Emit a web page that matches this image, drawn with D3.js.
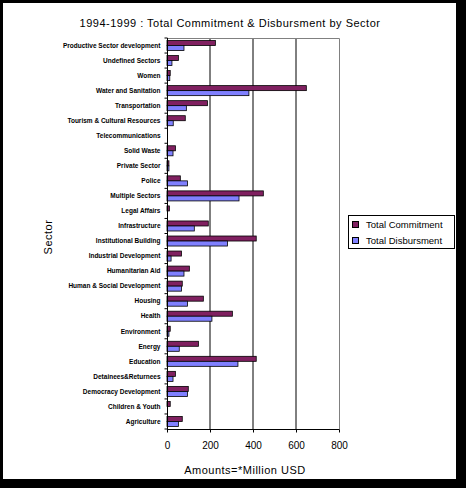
<!DOCTYPE html>
<html>
<head>
<meta charset="utf-8">
<script src="https://cdn.jsdelivr.net/npm/d3@7"></script>
<style>
body { margin: 0; background: #000; }
text { font-family: "Liberation Sans", Arial, sans-serif; }
</style>
</head>
<body>
<div id="chart"></div>
<script>
// ====================== data
var sectors = [
    'Productive Sector development', 'Undefined Sectors', 'Women', 'Water and Sanitation',
    'Transportation', 'Tourism & Cultural Resources', 'Telecommunications', 'Solid Waste',
    'Private Sector', 'Police', 'Multiple Sectors', 'Legal Affairs', 'Infrastructure',
    'Institutional Building', 'Industrial Development', 'Humanitarian Aid',
    'Human & Social Development', 'Housing', 'Health', 'Environment', 'Energy',
    'Education', 'Detainees&Returnees', 'Democracy Development', 'Children & Youth',
    'Agriculture'
];
var commitment = [225, 53, 15, 648, 188, 85, 0, 39, 9, 62, 448, 11, 192,
    415, 67, 104, 71, 169, 304, 15, 146, 415, 39, 99, 15, 71];
var disbursment = [79, 23, 13, 381, 90, 29, 0, 28, 9, 95, 335, 0, 127,
    281, 19, 79, 67, 95, 209, 9, 57, 330, 28, 95, 0, 53];
var xTicks = [0, 200, 400, 600, 800];
var seriesNames = ['Total Commitment', 'Total Disbursment'];
var seriesColors = ['#802060', '#8080ff'];

// ====================== layout
var W = 466, H = 488;
var plot = { left: 167, right: 339, top: 38, bottom: 429 };

var svg = d3.select('#chart').append('svg')
    .attr('width', W)
    .attr('height', H);

svg.append('rect').attr('width', W).attr('height', H).attr('fill', '#000');
svg.append('rect')
    .attr('x', 3).attr('y', 3)
    .attr('width', 453).attr('height', 476)
    .attr('fill', '#fff');

var x = d3.scaleLinear().domain([0, 800]).range([plot.left, plot.right]);
var y = d3.scaleBand().domain(sectors).range([plot.top, plot.bottom]);
var inner = d3.scaleBand().domain([0, 1]).range([0, y.bandwidth()]).paddingOuter(0.5);

// gridlines
svg.append('g').selectAll('line')
    .data(xTicks.slice(1, -1))
    .join('line')
    .attr('x1', d => x(d)).attr('x2', d => x(d))
    .attr('y1', plot.top).attr('y2', plot.bottom)
    .attr('stroke', '#000').attr('stroke-width', 1);

// plot border (gray top + right)
svg.append('path')
    .attr('d', 'M' + plot.left + ',' + (plot.top + 0.5) + 'H' + (plot.right + 0.5) + 'V' + plot.bottom)
    .attr('fill', 'none').attr('stroke', '#808080');

// bars
var series = [commitment, disbursment];
series.forEach(function (vals, s) {
    var rows = vals.map(function (v, i) { return { name: sectors[i], value: v }; })
        .filter(d => d.value > 0);
    svg.append('g').selectAll('rect')
        .data(rows)
        .join('rect')
        .attr('x', x(0))
        .attr('y', d => y(d.name) + inner(s))
        .attr('width', d => x(d.value) - x(0))
        .attr('height', inner.bandwidth())
        .attr('fill', seriesColors[s])
        .attr('stroke', '#000')
        .attr('stroke-width', 0.8);
});

// y axis
var yAxis = svg.append('g')
    .attr('transform', 'translate(' + (plot.left + 0.5) + ',0)');
yAxis.append('line')
    .attr('y1', plot.top).attr('y2', plot.bottom + 3)
    .attr('stroke', '#000');
yAxis.selectAll('.tk')
    .data(sectors.concat(['end']))
    .join('line')
    .attr('x1', -3).attr('x2', 0)
    .attr('y1', (d, i) => plot.top + i * y.step())
    .attr('y2', (d, i) => plot.top + i * y.step())
    .attr('stroke', '#000');
yAxis.selectAll('text')
    .data(sectors)
    .join('text')
    .attr('x', -7)
    .attr('y', d => y(d) + y.bandwidth() / 2)
    .attr('dy', '0.35em')
    .attr('text-anchor', 'end')
    .attr('font-size', 6.5)
    .attr('font-weight', 'bold')
    .text(d => d);

// x axis
var xAxis = d3.axisBottom(x).tickValues(xTicks).tickSize(3).tickPadding(9);
svg.append('g')
    .attr('transform', 'translate(0,' + (plot.bottom + 0.5) + ')')
    .call(xAxis)
    .call(g => g.select('.domain').attr('d', 'M' + plot.left + ',0H' + (plot.right + 0.5)))
    .call(g => g.selectAll('text').attr('font-size', 10).attr('font-family', '"Liberation Sans", Arial, sans-serif'));

// titles
svg.append('text')
    .attr('x', 230).attr('y', 27)
    .attr('text-anchor', 'middle')
    .attr('font-size', 11)
    .attr('letter-spacing', 0.5)
    .text('1994-1999 : Total Commitment & Disbursment by Sector');

svg.append('text')
    .attr('x', 245).attr('y', 474)
    .attr('text-anchor', 'middle')
    .attr('font-size', 11)
    .attr('letter-spacing', 0.5)
    .text('Amounts=*Million USD');

svg.append('text')
    .attr('transform', 'translate(52,237) rotate(-90)')
    .attr('text-anchor', 'middle')
    .attr('font-size', 11)
    .attr('letter-spacing', 0.5)
    .text('Sector');

// legend
var legend = svg.append('g').attr('transform', 'translate(348,215)');
legend.append('rect')
    .attr('x', 0.5).attr('y', 0.5)
    .attr('width', 106).attr('height', 33)
    .attr('fill', '#fff').attr('stroke', '#000');
seriesNames.forEach(function (name, i) {
    legend.append('rect')
        .attr('x', 4.5).attr('y', 6.5 + i * 16)
        .attr('width', 6).attr('height', 6)
        .attr('fill', seriesColors[i]).attr('stroke', '#000');
    legend.append('text')
        .attr('x', 18).attr('y', 10 + i * 16)
        .attr('dy', '0.35em')
        .attr('font-size', 9.5)
        .text(name);
});
</script>
</body>
</html>
